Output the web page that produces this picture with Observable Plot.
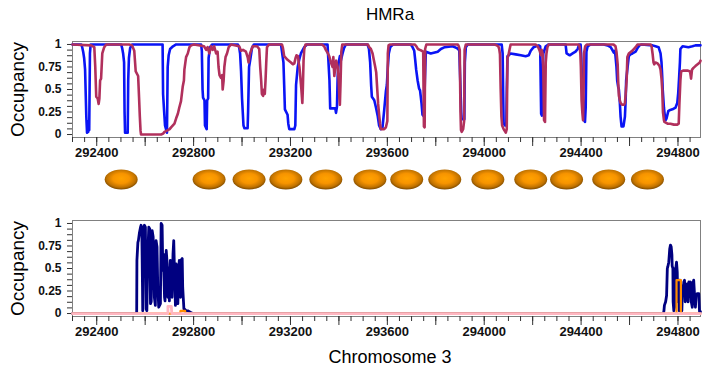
<!DOCTYPE html>
<html><head><meta charset="utf-8">
<script src="https://cdn.jsdelivr.net/npm/d3@7"></script>
<script src="https://cdn.jsdelivr.net/npm/@observablehq/plot@0.6"></script>
<style>
html,body{margin:0;padding:0;background:#fff;overflow:hidden}
#chart{position:relative;width:724px;height:379px;font-family:"Liberation Sans",Arial,sans-serif;color:#000}
#chart > *{position:absolute}
#chart .title{top:0;left:390px;transform:translateX(-50%);font-size:17px;line-height:30px;white-space:nowrap}
#chart .xlabel{top:344px;left:390px;transform:translateX(-50%);font-size:18px;line-height:26px;white-space:nowrap}
</style></head><body>
<div id="chart"></div>
<script>
const chartTitle = "HMRa";
const xAxisTitle = "Chromosome 3";
const yAxisTitle = "Occupancy";
const xDomain = [292300, 294893];
const yDomain = [-0.033, 1.033];
const xLabelTicks = [292400, 292800, 293200, 293600, 294000, 294400, 294800];
const xMajorTicks = d3.range(292400, 294900, 200);
const xMinorTicks = d3.range(292300, 294900, 50);
const yLabelTicks = [0, 0.25, 0.5, 0.75, 1];
const yMinorTicks = d3.range(0, 1.0001, 0.0625);

// nucleosome centres (ellipses between panels)
const nucleosomeX = [292501, 292864, 293029, 293181, 293346, 293528, 293680, 293837, 294015, 294192, 294340, 294514, 294674];

// top panel, blue series [position, occupancy]
const blueSeries = [
[292300,1],[292336,1],[292340,0.97],[292344,0.92],[292348,0.85],[292352,0.72],[292357,0.2],[292360,0.02],[292365,0.03],[292367,0.15],[292369,0.05],[292372,0.9],[292375,1],
[292501,1],[292505,0.96],[292509,0.9],[292513,0.8],[292515,0.25],[292517,0.02],[292528,0.02],[292530,0.6],[292533,0.85],[292538,0.96],[292546,1],
[292672,1],[292674,0.45],[292678,0.27],[292682,0.1],[292687,0.05],[292690,0.02],[292693,0.75],[292697,0.88],[292703,0.95],[292715,0.98],[292728,1],
[292831,1],[292834,0.93],[292837,0.5],[292839,0.41],[292845,0.38],[292847,0.1],[292854,0.06],[292856,0.38],[292860,0.4],[292862,0.85],[292868,0.97],[292876,1],
[292983,1],[292988,0.97],[292992,0.9],[292996,0.7],[293000,0.4],[293006,0.1],[293010,0.07],[293023,0.07],[293025,0.25],[293029,0.75],[293035,0.85],[293041,0.96],[293049,1],
[293161,1],[293171,0.8],[293174,0.55],[293177,0.28],[293188,0.22],[293191,0.12],[293195,0.06],[293216,0.06],[293220,0.1],[293223,0.55],[293230,0.75],[293236,0.83],[293243,0.9],[293257,0.97],[293268,1],
[293353,1],[293357,0.8],[293361,0.6],[293364,0.29],[293385,0.29],[293388,0.24],[293392,0.31],[293395,0.65],[293399,0.8],[293404,0.87],[293408,0.82],[293415,0.9],[293421,0.96],[293429,1],
[293518,1],[293524,0.95],[293529,0.8],[293533,0.55],[293536,0.42],[293546,0.38],[293553,0.3],[293560,0.21],[293566,0.1],[293573,0.06],[293580,0.08],[293587,0.27],[293594,0.48],[293598,0.55],[293602,0.75],[293606,0.9],[293612,0.97],[293623,1],
[293697,1],[293704,0.97],[293711,0.93],[293715,0.83],[293719,0.72],[293725,0.6],[293731,0.51],[293735,0.49],[293738,0.42],[293741,0.35],[293745,0.22],[293751,0.2],[293755,0.6],[293759,0.92],[293779,0.9],[293808,0.92],[293821,0.95],[293837,0.97],[293870,0.98],[293887,0.96],[293895,0.94],
[293897,0.93],[293901,0.6],[293905,0.25],[293907,0.17],[293918,0.17],[293920,0.8],[293924,0.97],[293932,1],
[294072,1],[294076,0.9],[294078,0.5],[294080,0.13],[294085,0.1],[294091,0.1],[294093,0.5],[294096,0.87],[294109,0.9],[294130,0.89],[294151,0.88],[294171,0.87],[294184,0.88],[294192,0.93],[294204,0.97],[294225,0.99],[294231,0.98],
[294233,0.6],[294235,0.23],[294238,0.21],[294241,0.6],[294244,0.9],[294254,0.98],[294266,1],
[294336,1],[294340,0.9],[294353,0.88],[294365,0.9],[294377,0.92],[294386,0.95],[294392,1],
[294398,1],[294401,0.85],[294403,0.63],[294408,0.4],[294412,0.16],[294416,0.14],[294419,0.3],[294422,0.92],[294427,0.98],[294439,1],
[294493,1],[294509,0.99],[294522,0.97],[294531,0.93],[294535,0.91],[294539,0.93],[294542,0.87],[294546,0.75],[294549,0.6],[294553,0.53],[294556,0.5],[294560,0.35],[294563,0.2],[294567,0.09],[294575,0.09],[294581,0.2],[294584,0.39],[294586,0.6],[294592,0.75],[294597,0.87],[294604,0.89],[294612,0.9],[294625,0.92],[294633,0.96],[294641,0.99],[294650,1],
[294695,0.99],[294707,0.98],[294720,0.97],[294728,0.9],[294732,0.8],[294735,0.64],[294737,0.5],[294742,0.3],[294746,0.2],[294749,0.16],[294753,0.18],[294760,0.26],[294765,0.27],[294777,0.28],[294790,0.3],[294797,0.35],[294801,0.46],[294804,0.6],[294808,0.8],[294810,0.95],[294819,0.98],[294843,0.97],[294860,0.98],[294872,0.99],[294893,0.99]
];

// top panel, crimson series [position, occupancy]
const crimsonSeries = [
[292300,1],[292377,0.99],[292390,0.97],[292394,0.75],[292398,0.42],[292404,0.4],[292408,0.34],[292411,0.4],[292414,0.6],[292418,0.62],[292423,0.9],[292431,0.97],[292439,1],
[292534,1],[292546,0.99],[292555,0.93],[292561,0.7],[292571,0.65],[292575,0.4],[292578,0.2],[292581,0.04],[292583,0],[292666,0],[292674,0.01],[292680,0.03],[292694,0.05],[292701,0.06],[292707,0.08],[292721,0.12],[292728,0.18],[292735,0.23],[292741,0.3],[292748,0.37],[292755,0.53],[292760,0.6],[292762,0.72],[292769,0.86],[292776,0.9],[292783,0.97],[292790,0.99],[292802,1],
[292843,0.98],[292852,0.94],[292858,0.97],[292865,0.9],[292872,0.98],[292879,0.94],[292885,0.98],[292893,0.9],[292899,0.92],[292903,0.75],[292907,0.66],[292913,0.63],[292918,0.66],[292920,0.5],[292924,0.6],[292927,0.75],[292932,0.86],[292938,0.9],[292945,0.97],[292955,1],
[292988,0.98],[292996,0.93],[293004,0.94],[293016,0.92],[293024,0.85],[293027,0.8],[293033,0.9],[293044,0.98],[293062,0.98],[293071,0.95],[293075,0.75],[293079,0.6],[293082,0.45],[293087,0.43],[293091,0.5],[293094,0.45],[293097,0.6],[293100,0.8],[293103,0.97],[293111,1],
[293165,1],[293169,0.96],[293174,0.87],[293188,0.83],[293202,0.8],[293210,0.78],[293216,0.79],[293221,0.85],[293225,0.88],[293231,0.87],[293234,0.8],[293237,0.75],[293241,0.63],[293245,0.5],[293249,0.35],[293251,0.5],[293254,0.82],[293257,0.95],[293262,1],
[293330,1],[293339,0.98],[293346,0.94],[293355,0.9],[293360,0.87],[293367,0.8],[293374,0.75],[293377,0.86],[293381,0.65],[293385,0.75],[293389,0.82],[293395,0.75],[293399,0.6],[293402,0.4],[293404,0.33],[293407,0.6],[293410,0.92],[293414,1],
[293520,1],[293525,0.97],[293532,0.95],[293539,0.9],[293544,0.83],[293550,0.75],[293554,0.69],[293557,0.56],[293560,0.43],[293562,0.34],[293566,0.22],[293570,0.12],[293573,0.06],[293587,0.06],[293594,0.08],[293600,0.15],[293602,0.9],[293605,0.99],[293610,1],
[293713,1],[293720,0.98],[293726,0.95],[293734,0.94],[293742,0.93],[293748,0.92],[293751,0.09],[293754,0.08],[293756,0.95],[293761,1],
[293891,1],[293895,0.98],[293899,0.94],[293902,0.25],[293904,0.05],[293907,0.03],[293913,0.06],[293917,0.15],[293919,0.94],[293924,1],
[294043,1],[294052,0.99],[294058,0.98],[294062,0.95],[294065,0.89],[294068,0.5],[294071,0.2],[294074,0.1],[294080,0.06],[294085,0.04],[294089,0.02],[294093,0.06],[294096,0.85],[294100,0.88],[294105,0.95],[294109,1],
[294212,1],[294221,0.98],[294229,0.93],[294234,0.88],[294237,0.94],[294241,0.9],[294244,0.7],[294247,0.16],[294251,0.14],[294254,0.8],[294257,0.9],[294261,0.97],[294266,1],
[294390,1],[294394,0.97],[294397,0.9],[294399,0.75],[294402,0.38],[294405,0.25],[294408,0.16],[294410,0.4],[294412,0.9],[294417,0.98],[294423,1],
[294534,1],[294542,0.98],[294546,0.92],[294551,0.78],[294553,0.6],[294556,0.43],[294560,0.38],[294563,0.35],[294570,0.33],[294577,0.33],[294581,0.35],[294584,0.45],[294588,0.6],[294591,0.86],[294597,0.9],[294611,0.93],[294625,0.97],[294633,1],
[294687,1],[294691,0.98],[294695,0.9],[294699,0.8],[294702,0.78],[294707,0.8],[294716,0.79],[294724,0.76],[294728,0.72],[294732,0.62],[294735,0.5],[294738,0.25],[294742,0.16],[294744,0.14],[294757,0.12],[294769,0.12],[294783,0.11],[294797,0.11],[294803,0.12],[294806,0.35],[294810,0.6],[294813,0.7],[294823,0.71],[294839,0.71],[294850,0.7],[294854,0.62],[294858,0.72],[294864,0.74],[294872,0.76],[294881,0.78],[294890,0.8],[294893,0.82]
];

// bottom panel, navy series
const navySeries = [
[292300,0],[292565,0],[292566,0.59],[292570,0.79],[292572,0.81],[292576,0.89],[292581,0.96],[292583,0.98],[292586,0.96],[292589,0.3],[292590,0.03],[292593,0.92],[292597,0.98],[292601,0.96],[292604,0.05],[292607,0.03],[292611,0.66],[292615,0.96],[292619,0.94],[292622,0.11],[292625,0.13],[292629,0.92],[292633,0.85],[292638,0.18],[292642,0.09],[292645,0.81],[292649,0.74],[292652,0.3],[292656,0.07],[292663,0.11],[292666,1.0],[292670,0.98],[292673,0.48],[292675,0.66],[292680,0.18],[292682,0.14],[292687,0.7],[292691,0.55],[292694,0.18],[292698,0.51],[292700,0.14],[292704,0.59],[292707,0.51],[292711,0.18],[292715,0.66],[292718,0.81],[292721,0.48],[292725,0.09],[292728,0.55],[292732,0.44],[292735,0.11],[292739,0.51],[292741,0.59],[292746,0.18],[292748,0.59],[292753,0.61],[292755,0.29],[292760,0.05],[292762,0.05],[292769,0.03],[292776,0.03],[292790,0.01],[292797,0],
[294740,0],[294742,0.03],[294744,0.09],[294749,0.13],[294753,0.2],[294756,0.5],[294758,0.52],[294762,0.57],[294766,0.72],[294769,0.76],[294772,0.74],[294775,0.65],[294776,0.53],[294779,0.5],[294780,0.13],[294783,0.03],[294786,0.07],[294789,0.5],[294791,0.5],[294794,0.57],[294797,0.46],[294799,0.13],[294802,0.35],[294805,0.03],[294808,0.37],[294810,0.35],[294813,0.13],[294816,0.03],[294819,0.31],[294822,0.27],[294824,0.35],[294827,0.37],[294830,0.13],[294832,0.31],[294835,0.27],[294838,0.33],[294842,0.13],[294845,0.35],[294849,0.31],[294852,0.35],[294855,0.13],[294859,0.07],[294863,0.35],[294865,0.37],[294870,0.13],[294872,0.07],[294875,0.2],[294879,0.22],[294886,0.22],[294889,0.02],[294893,0.02]
];
// bottom panel, orange series
const orangeSeries = [[292300,0],[292745,0],[292746,0.03],[292765,0.03],[292766,0],[294794,0],[294794,0.37],[294812,0.37],[294812,0],[294893,0]];
// bottom panel, pink series
const pinkSeries = [[292300,0],[292694,0],[292694,0.08],[292708,0.08],[292710,0],[294893,0]];

const FONT = '"Liberation Sans", Arial, sans-serif';
const toRows = s => s.map(([x, y]) => ({x, y}));

function panelAxes() {
  return [
    Plot.frame({stroke: "#808080"}),
    Plot.axisX({ticks: xMinorTicks, tickSize: 5, fill: "none", label: null, stroke: "#333"}),
    Plot.axisX({ticks: xMajorTicks, tickSize: 9, fill: "none", label: null, stroke: "#333"}),
    Plot.axisX({ticks: xLabelTicks, tickSize: 0, tickPadding: 10, stroke: "none", label: null,
      tickFormat: d3.format("d"), fontSize: 13, fontWeight: "bold", fill: "#111"}),
    Plot.axisY({ticks: yMinorTicks, tickSize: 5, fill: "none", label: null, stroke: "#333"}),
    Plot.axisY({ticks: yLabelTicks, tickSize: 0, tickPadding: 11, stroke: "none", label: null,
      tickFormat: d => String(d), fontSize: 12, fontWeight: "bold", fill: "#111"}),
    Plot.text([yAxisTitle], {text: d => d, frameAnchor: "left", textAnchor: "middle", lineAnchor: "middle",
      rotate: -90, dx: -55, fontSize: 19, fill: "#000"})
  ];
}

const chart = document.getElementById("chart");

const title = document.createElement("div");
title.className = "title";
title.textContent = chartTitle;
chart.appendChild(title);

const topPlot = Plot.plot({
  width: 724, height: 135, marginLeft: 72, marginRight: 24, marginTop: 11, marginBottom: 28,
  style: {fontFamily: FONT, background: "transparent", overflow: "visible"},
  x: {domain: xDomain}, y: {domain: yDomain},
  marks: [
    ...panelAxes(),
    Plot.line(toRows(blueSeries), {x: "x", y: "y", stroke: "#0a14f5", strokeWidth: 2.6}),
    Plot.line(toRows(crimsonSeries), {x: "x", y: "y", stroke: "#b1305c", strokeWidth: 2.6})
  ]
});
topPlot.style.top = "30px"; topPlot.style.left = "0px";
chart.appendChild(topPlot);

const ellipseSymbol = {
  draw(ctx, size) {
    const r = Math.sqrt(size / Math.PI), rx = r * 1.65, ry = r, k = 0.5523;
    ctx.moveTo(rx, 0);
    ctx.bezierCurveTo(rx, ry * k, rx * k, ry, 0, ry);
    ctx.bezierCurveTo(-rx * k, ry, -rx, ry * k, -rx, 0);
    ctx.bezierCurveTo(-rx, -ry * k, -rx * k, -ry, 0, -ry);
    ctx.bezierCurveTo(rx * k, -ry, rx, -ry * k, rx, 0);
    ctx.closePath();
  }
};

const nucPlot = Plot.plot({
  width: 724, height: 28, marginLeft: 72, marginRight: 24, marginTop: 0, marginBottom: 0,
  style: {background: "transparent", overflow: "visible"},
  x: {domain: xDomain, axis: null}, y: {axis: null},
  marks: [
    Plot.dot(nucleosomeX, {x: d => d, r: 10, symbol: ellipseSymbol, fill: "url(#nucGrad)", stroke: "none"})
  ]
});
(function addGradient(svg) {
  const ns = "http://www.w3.org/2000/svg";
  const defs = document.createElementNS(ns, "defs");
  const g = document.createElementNS(ns, "radialGradient");
  g.setAttribute("id", "nucGrad");
  g.setAttribute("cx", "50%"); g.setAttribute("cy", "45%"); g.setAttribute("r", "55%");
  [["0%", "#ffa200"], ["45%", "#f79400"], ["80%", "#c07200"], ["100%", "#7a4800"]].forEach(([o, c]) => {
    const s = document.createElementNS(ns, "stop");
    s.setAttribute("offset", o); s.setAttribute("stop-color", c);
    g.appendChild(s);
  });
  defs.appendChild(g);
  svg.insertBefore(defs, svg.firstChild);
})(nucPlot);
nucPlot.style.top = "165px"; nucPlot.style.left = "0px";
chart.appendChild(nucPlot);

const bottomPlot = Plot.plot({
  width: 724, height: 149, marginLeft: 72, marginRight: 24, marginTop: 25, marginBottom: 28,
  style: {fontFamily: FONT, background: "transparent", overflow: "visible"},
  x: {domain: xDomain}, y: {domain: yDomain},
  marks: [
    ...panelAxes(),
    Plot.line(toRows(navySeries), {x: "x", y: "y", stroke: "#000080", strokeWidth: 2.8}),
    Plot.line(toRows(orangeSeries), {x: "x", y: "y", stroke: "#ff8c00", strokeWidth: 2.2}),
    Plot.line(toRows(pinkSeries), {x: "x", y: "y", stroke: "#ffb6c1", strokeWidth: 2.8})
  ]
});
bottomPlot.style.top = "195px"; bottomPlot.style.left = "0px";
chart.appendChild(bottomPlot);

const xlabel = document.createElement("div");
xlabel.className = "xlabel";
xlabel.textContent = xAxisTitle;
chart.appendChild(xlabel);
</script>
</body></html>
